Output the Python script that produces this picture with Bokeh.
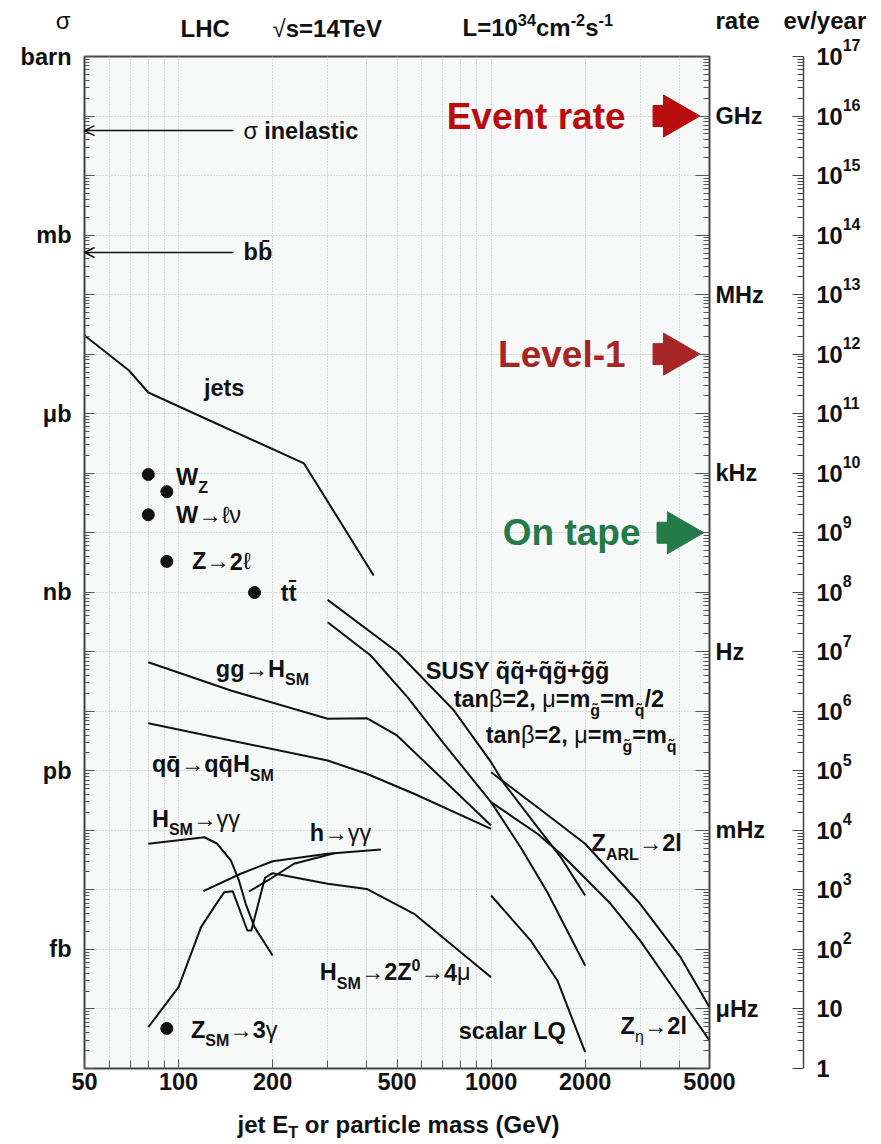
import unicodedata
import numpy as np
from bokeh.plotting import figure
from bokeh.layouts import row, column
from bokeh.models import Range1d, LogAxis, LinearAxis, FixedTicker, Label, Arrow, OpenHead
from bokeh.embed import file_html
from bokeh.resources import INLINE

FONT = "Liberation Sans"
INK = "#111111"

# ---------------- data (cross sections in barn, mass / jet E_T in GeV) ----------------
jets_mass = [50, 69.4, 80, 252, 421]
jets_xsec = [2.06e-5, 5.31e-6, 2.27e-6, 1.46e-7, 1.91e-9]

susy_half_mass = [300, 502, 761, 1000, 1100, 1407, 1671, 2000]
susy_half_xsec = [7.46e-10, 9.84e-11, 1.03e-11, 1.40e-12, 6.14e-13, 1.13e-13, 3.55e-14, 8.05e-15]
susy_equal_mass = [300, 412, 540, 707, 1000, 1243, 1514, 2000]
susy_equal_xsec = [3.14e-10, 8.67e-11, 1.73e-11, 2.84e-12, 2.98e-13, 5.22e-14, 9.16e-15, 5.37e-16]

ggH_mass = [80, 147, 300, 400, 500, 1000]
ggH_xsec = [6.68e-11, 2.24e-11, 7.48e-12, 7.66e-12, 3.93e-12, 1.21e-13]
qqH_mass = [80, 147, 300, 400, 567, 1000]
qqH_xsec = [6.31e-12, 3.24e-12, 1.49e-12, 8.93e-13, 4.12e-13, 1.06e-13]

Hgg_mass = [80, 121, 133, 147, 156, 164, 175, 200]
Hgg_xsec = [5.96e-14, 7.67e-14, 5.96e-14, 3.12e-14, 1.44e-14, 5.85e-15, 2.37e-15, 7.91e-16]

H4mu_mass = [80, 100, 118, 130, 140, 149, 166, 171, 189, 200, 300, 400, 567, 1000]
H4mu_xsec = [4.94e-17, 2.32e-16, 2.37e-15, 5.13e-15, 9.16e-15, 9.51e-15, 2.08e-15, 2.08e-15,
             1.60e-14, 1.91e-14, 1.27e-14, 1.04e-14, 3.97e-15, 3.42e-16]

hgg1_mass = [120, 158, 200, 300, 444]
hgg1_xsec = [9.51e-15, 1.87e-14, 3.03e-14, 4.05e-14, 4.78e-14]
hgg2_mass = [168, 193, 234, 315]
hgg2_xsec = [9.40e-15, 1.44e-14, 2.75e-14, 4.14e-14]

ZARL_mass = [1000, 1407, 2000, 3000, 4039, 5000]
ZARL_xsec = [9.48e-13, 2.45e-13, 5.96e-14, 5.85e-15, 7.41e-16, 1.07e-16]
Zeta_mass = [1000, 1407, 1671, 2413, 3000, 3942, 5000]
Zeta_xsec = [2.98e-13, 8.77e-14, 4.05e-14, 5.85e-15, 1.41e-15, 1.80e-16, 2.95e-17]

LQ_mass = [1000, 1339, 1630, 2000]
LQ_xsec = [8.05e-15, 1.41e-15, 3.01e-16, 1.88e-17]

point_names = ["W", "Z", "W->lv", "Z->2l", "ttbar", "Z_SM->3gamma"]
point_mass = [80, 91.7, 80, 91.7, 175, 91.7]
point_xsec = [9.5e-8, 4.9e-8, 2.0e-8, 3.3e-9, 9.9e-10, 4.7e-17]

sigma_inelastic = 5.7e-2
sigma_bbbar = 5.1e-4
sigma_arrow_from = 150

trigger_names = ["Event rate", "Level-1", "On tape"]
trigger_rate_hz = [1e9, 1e5, 1e2]
trigger_colors = ["#B80C0E", "#A62626", "#247A48"]

xsec_units = ["barn", "mb", "μb", "nb", "pb", "fb"]
xsec_unit_exp = [0, -3, -6, -9, -12, -15]
rate_units = ["GHz", "MHz", "kHz", "Hz", "mHz", "μHz"]
rate_unit_hz = [1e9, 1e6, 1e3, 1.0, 1e-3, 1e-6]
mass_ticks = [50, 100, 200, 500, 1000, 2000, 5000]
mass_minor = [60, 70, 80, 90, 300, 400, 600, 700, 800, 900, 3000, 4000]
ev_year_exp = list(range(0, 18))

HZ_PER_BARN = 1e10           # L = 1e34 cm^-2 s^-1, 1 barn = 1e-24 cm^2
EV_PER_YEAR_PER_BARN = 1e17  # 1e7 s per year

# ---------------- layout constants (page pixels) ----------------
HEAD_H = 42
TOP_GAP = 14
FRAME_W = 625
FRAME_H = 1012
BOTTOM_GAP = 34
FOOT_H = 40
LEFT_B = 84
RIGHT_B = 60
FRAME_TOP = HEAD_H + TOP_GAP          # 56
FRAME_LEFT = LEFT_B                   # 84
FRAME_RIGHT = LEFT_B + FRAME_W        # 709
TOTAL_H = HEAD_H + TOP_GAP + FRAME_H + BOTTOM_GAP + FOOT_H
EV_AXIS_X = 803
EV_EXTRA = 30

# ---------------- text helpers ----------------
W = {}
for ch, w in zip("ABCDEFGHIJKLMNOPQRSTUVWXYZ",
                 [722, 722, 722, 722, 667, 611, 778, 722, 278, 556, 722, 611, 833, 722, 778, 667, 778, 722,
                  667, 611, 722, 667, 944, 667, 667, 611]):
    W[ch] = w
for ch, w in zip("abcdefghijklmnopqrstuvwxyz",
                 [556, 611, 556, 611, 556, 333, 611, 611, 278, 278, 556, 278, 889, 611, 611, 611, 611, 389,
                  556, 333, 611, 556, 778, 556, 556, 500]):
    W[ch] = w
for ch in "0123456789":
    W[ch] = 556
W.update({" ": 278, "(": 333, ")": 333, "+": 584, ",": 278, "-": 333, ".": 278, "/": 278, "=": 584,
          "→": 1000, "γ": 500, "ν": 500, "ℓ": 420, "μ": 576, "η": 556, "β": 573, "σ": 600, "√": 549})


def tw(s, size):
    return sum(W.get(c, 600) for c in s if not unicodedata.combining(c)) * size / 1000.0


def rich(fig, x, y, parts, size=23.5, dx=0.0, dy=0.0, align="left", color=INK):
    pieces, total = [], 0.0
    for text, role in parts:
        weight = "bold" if role[0] == "b" else "normal"
        pos = role[1:]
        fs = size * 0.68 if pos else size
        shift = {"": 0.0, "s": -0.45 * size, "t": -0.33 * size, "p": 0.33 * size, "P": 0.47 * size}[pos]
        lead = len(text) - len(text.lstrip(" "))
        total += tw(" " * lead, fs)
        pieces.append((text.strip(" "), weight, fs, shift, total))
        total += tw(text.lstrip(" "), fs)
    start = dx - (total if align == "right" else total / 2 if align == "center" else 0.0)
    for text, weight, fs, shift, off in pieces:
        fig.add_layout(Label(x=x, y=y, x_offset=start + off, y_offset=dy + shift, text=text,
                             text_font=FONT, text_font_size=f"{fs:.1f}px", text_font_style=weight,
                             text_color=color, text_baseline="middle", text_align="left"))


def strip_fig(height):
    # frame is aligned with the main frame (page x 84..709), so data x == page x
    f = figure(width=LEFT_B + FRAME_W + RIGHT_B, height=height,
               x_range=Range1d(FRAME_LEFT, FRAME_RIGHT), y_range=Range1d(0, height),
               min_border_left=LEFT_B, min_border_right=RIGHT_B, min_border_top=0, min_border_bottom=0,
               toolbar_location=None, output_backend="svg", title=None, x_axis_location=None,
               y_axis_location=None, outline_line_color=None, background_fill_color="white",
               border_fill_color="white")
    f.grid.visible = False
    return f


def single_label_axis(kind, loc, text, standoff, weight):
    ax = kind(ticker=FixedTicker(ticks=[loc]), major_label_overrides={loc: text})
    ax.axis_line_color = None
    ax.major_tick_line_color = None
    ax.minor_tick_line_color = None
    ax.major_tick_in = 0
    ax.major_tick_out = 0
    ax.major_label_standoff = standoff
    ax.major_label_text_font = FONT
    ax.major_label_text_font_size = "24px"
    ax.major_label_text_font_style = weight
    ax.major_label_text_color = INK
    return ax


# ---------------- main figure ----------------
decades = [10.0 ** k for k in range(-17, 1)]
decade_minor = [m * 10.0 ** k for k in range(-17, 0) for m in range(2, 10)]

p = figure(x_axis_type="log", y_axis_type="log", x_range=Range1d(50, 5000), y_range=Range1d(1e-17, 1),
           frame_width=FRAME_W, frame_height=FRAME_H, min_border_left=LEFT_B, min_border_right=RIGHT_B,
           min_border_top=TOP_GAP, min_border_bottom=BOTTOM_GAP, toolbar_location=None,
           output_backend="svg", title=None, background_fill_color="#f7f9f9", border_fill_color="white",
           outline_line_color="#444444", outline_line_width=2)

p.xaxis.ticker = FixedTicker(ticks=mass_ticks, minor_ticks=mass_minor)
p.xaxis.major_label_overrides = {m: str(m) for m in mass_ticks}
p.xaxis.axis_line_color = None
p.xaxis.major_tick_in = 9
p.xaxis.major_tick_out = 0
p.xaxis.minor_tick_in = 8
p.xaxis.minor_tick_out = 0
p.xaxis.major_label_standoff = 4

p.yaxis.ticker = FixedTicker(ticks=decades, minor_ticks=decade_minor)
left_over = {d: "" for d in decades}
for name, e in zip(xsec_units, xsec_unit_exp):
    left_over[10.0 ** e] = name
p.yaxis.major_label_overrides = left_over
p.yaxis.axis_line_color = None
p.yaxis.major_tick_in = 10
p.yaxis.major_tick_out = 0
p.yaxis.minor_tick_in = 5
p.yaxis.minor_tick_out = 0
p.yaxis.major_label_standoff = 13

rate_axis = LogAxis(ticker=FixedTicker(ticks=decades, minor_ticks=decade_minor))
rate_over = {d: "" for d in decades}
for name, hz in zip(rate_units, rate_unit_hz):
    rate_over[10.0 ** round(np.log10(hz / HZ_PER_BARN))] = name
rate_axis.major_label_overrides = rate_over
rate_axis.axis_line_color = None
rate_axis.major_tick_in = 14
rate_axis.major_tick_out = 0
rate_axis.minor_tick_in = 6
rate_axis.minor_tick_out = 0
rate_axis.major_label_standoff = 6
p.add_layout(rate_axis, "right")

for ax in (p.xaxis[0], p.yaxis[0], rate_axis):
    ax.major_label_text_font = FONT
    ax.major_label_text_font_style = "bold"
    ax.major_label_text_font_size = "23.5px"
    ax.major_label_text_color = INK
    ax.major_tick_line_color = "#555555"
    ax.minor_tick_line_color = "#555555"

p.xgrid.grid_line_color = "#b8b8b8"
p.xgrid.grid_line_dash = "1 2"
p.xgrid.minor_grid_line_color = "#b8b8b8"
p.xgrid.minor_grid_line_dash = "1 2"
p.ygrid.grid_line_color = "#b8b8b8"
p.ygrid.grid_line_dash = "1 2"

curves = [(jets_mass, jets_xsec), (susy_half_mass, susy_half_xsec), (susy_equal_mass, susy_equal_xsec),
          (ggH_mass, ggH_xsec), (qqH_mass, qqH_xsec), (Hgg_mass, Hgg_xsec), (H4mu_mass, H4mu_xsec),
          (hgg1_mass, hgg1_xsec), (hgg2_mass, hgg2_xsec), (ZARL_mass, ZARL_xsec), (Zeta_mass, Zeta_xsec),
          (LQ_mass, LQ_xsec)]
for xs, ys in curves:
    p.line(xs, ys, line_width=2, line_color=INK)

p.scatter(point_mass, point_xsec, size=12, color=INK)

for sig in (sigma_inelastic, sigma_bbbar):
    p.add_layout(Arrow(x_start=sigma_arrow_from, y_start=sig, x_end=50, y_end=sig, line_width=1.5,
                       line_color=INK, end=OpenHead(size=10, line_width=1.5, line_color=INK)))
rich(p, sigma_arrow_from, sigma_inelastic, [("σ", "n"), (" inelastic", "b")], dx=10)
rich(p, sigma_arrow_from, sigma_bbbar, [("bb\u0304", "b")], dx=10)

# trigger levels
trigger_xsec = [r / HZ_PER_BARN for r in trigger_rate_hz]
shaft_x = [3486, 3486, 3590]
head_x = [3897, 3897, 4010]
text_x = [2694, 2694, 3008]
p.rect(shaft_x, trigger_xsec, width=15, height=21, width_units="screen", height_units="screen",
       color=trigger_colors)
p.scatter(head_x, trigger_xsec, marker="triangle", size=42, angle=-np.pi / 2, color=trigger_colors)
for name, tx, ty, col in zip(trigger_names, text_x, trigger_xsec, trigger_colors):
    rich(p, tx, ty, [(name, "b")], size=37, align="right", color=col)

# curve labels (x in GeV, y in barn for the left/middle of each label)
sub_q = "q\u0303"
sub_g = "g\u0303"
labels = [
    (120.5, 2.75e-6, [("jets", "b")]),
    (98.1, 8.8e-8, [("W", "b"), ("Z", "bs")]),
    (98.1, 1.95e-8, [("W", "b"), ("→", "n"), ("ℓν", "n")]),
    (110.4, 3.29e-9, [("Z", "b"), ("→", "n"), ("2", "b"), ("ℓ", "n")]),
    (212.5, 9.9e-10, [("tt\u0304", "b")]),
    (131.6, 5.24e-11, [("gg", "b"), ("→", "n"), ("H", "b"), ("SM", "bs")]),
    (82.2, 1.28e-12, [("qq\u0304", "b"), ("→", "n"), ("qq\u0304H", "b"), ("SM", "bs")]),
    (82.2, 1.58e-13, [("H", "b"), ("SM", "bs"), ("→", "n"), ("γγ", "n")]),
    (263, 9.2e-14, [("h", "b"), ("→", "n"), ("γγ", "n")]),
    (618, 4.85e-11, [("SUSY q\u0303q\u0303+q\u0303g\u0303+g\u0303g\u0303", "b")]),
    (759, 1.58e-11, [("tan", "b"), ("β", "n"), ("=2,", "b"), (" μ", "n"), ("=m", "b"), (sub_g, "bs"),
                     ("=m", "b"), (sub_q, "bs"), ("/2", "b")]),
    (961, 3.93e-12, [("tan", "b"), ("β", "n"), ("=2,", "b"), (" μ", "n"), ("=m", "b"), (sub_g, "bs"),
                     ("=m", "b"), (sub_q, "bs")]),
    (2097, 6.03e-14, [("Z", "b"), ("ARL", "bs"), ("→", "n"), ("2l", "b")]),
    (283, 4.1e-16, [("H", "b"), ("SM", "bs"), ("→", "n"), ("2Z", "b"), ("0", "bp"), ("→", "n"),
                    ("4", "b"), ("μ", "n")]),
    (788, 4.19e-17, [("scalar LQ", "b")]),
    (2597, 5.27e-17, [("Z", "b"), ("η", "ns"), ("→", "n"), ("2l", "b")]),
    (109.5, 4.52e-17, [("Z", "b"), ("SM", "bs"), ("→", "n"), ("3", "b"), ("γ", "n")]),
]
for lx, ly, parts in labels:
    rich(p, lx, ly, parts)

# ---------------- header strip ----------------
head = strip_fig(HEAD_H)
head.add_layout(single_label_axis(LinearAxis, HEAD_H - 20, "σ", 14, "normal"), "left")
head.add_layout(single_label_axis(LinearAxis, HEAD_H - 20, "rate", 6, "bold"), "right")
rich(head, 180, HEAD_H - 28, [("LHC", "b")], size=24)
rich(head, 272, HEAD_H - 28, [("√", "n"), ("s=14TeV", "b")], size=24)
rich(head, 462, HEAD_H - 27, [("L=10", "b"), ("34", "bp"), ("cm", "b"), ("-2", "bp"), ("s", "b"),
                               ("-1", "bp")], size=24)

# ---------------- footer strip ----------------
foot = strip_fig(FOOT_H)
rich(foot, 237, 18, [("jet E", "b"), ("T", "bt"), (" or particle mass (GeV)", "b")], size=24)

# ---------------- ev/year axis (frame spans the full column height) ----------------
decade_px = FRAME_H / 17.0
q_top = EV_PER_YEAR_PER_BARN * 10 ** (FRAME_TOP / decade_px)
q_bottom = 10 ** (-EV_EXTRA / decade_px)
q_right = 869
q = figure(y_axis_type="log", x_range=Range1d(FRAME_RIGHT + RIGHT_B, q_right),
           y_range=Range1d(q_bottom, q_top),
           frame_width=q_right - (FRAME_RIGHT + RIGHT_B), frame_height=FRAME_TOP + FRAME_H + EV_EXTRA,
           min_border_left=0, min_border_right=0, min_border_top=0,
           min_border_bottom=TOTAL_H - FRAME_TOP - FRAME_H - EV_EXTRA, toolbar_location=None,
           output_backend="svg", title=None, x_axis_location=None, y_axis_location=None,
           outline_line_color=None, background_fill_color="white", border_fill_color="white")
q.grid.visible = False
ev_ticks = [10.0 ** k for k in ev_year_exp]
ev_minor = [m * 10.0 ** k for k in ev_year_exp[:-1] for m in range(2, 10)]
ya = LogAxis(ticker=FixedTicker(ticks=ev_ticks, minor_ticks=ev_minor), fixed_location=EV_AXIS_X,
             bounds=(ev_ticks[0], ev_ticks[-1]), major_label_overrides={t: "" for t in ev_ticks})
ya.axis_line_color = "#444444"
ya.axis_line_width = 1.5
ya.major_tick_in = 11
ya.major_tick_out = 0
ya.minor_tick_in = 6
ya.minor_tick_out = 0
ya.major_tick_line_color = "#444444"
ya.minor_tick_line_color = "#444444"
ya.major_label_standoff = 0
ya.major_label_text_font_size = "1px"
q.add_layout(ya, "right")
for k, t in zip(ev_year_exp, ev_ticks):
    if k == 0:
        parts = [("1", "b")]
    elif k == 1:
        parts = [("10", "b")]
    else:
        parts = [("10", "b"), (str(k), "bP")]
    rich(q, EV_AXIS_X, t, parts, dx=13)
rich(q, EV_AXIS_X, ev_ticks[-1], [("ev/year", "b")], size=24, dx=-20, dy=36)

layout = row(column(head, p, foot), q)
open("out.html", "w").write(file_html(layout, INLINE))
